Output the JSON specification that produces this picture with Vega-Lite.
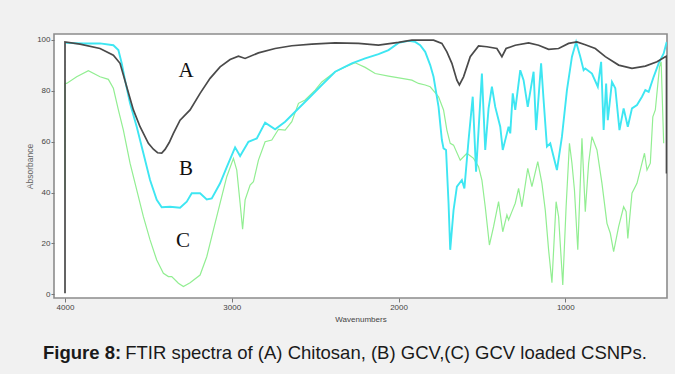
{
  "$schema": "https://vega.github.io/schema/vega-lite/v6.json",
  "width": 613,
  "height": 264,
  "autosize": {"type": "none"},
  "padding": {"left": 54, "top": 34, "right": 8, "bottom": 76},
  "background": "#f1f1f1",
  "config": {
    "view": {"fill": "white", "stroke": "#8c8c8c", "strokeWidth": 1.6},
    "font": "Liberation Sans"
  },
  "title": {
    "text": "Figure 8:",
    "subtitle": "\u200b\u00a0\u00a0\u00a0\u00a0\u00a0\u00a0\u00a0\u00a0\u00a0\u00a0\u00a0\u00a0\u00a0\u00a0\u00a0\u00a0FTIR spectra of (A) Chitosan, (B) GCV,(C) GCV loaded CSNPs.",
    "orient": "bottom",
    "anchor": "start",
    "frame": "group",
    "dx": -11,
    "offset": 21,
    "fontSize": 18.5,
    "fontWeight": "bold",
    "font": "Liberation Sans",
    "color": "#1a1a1a",
    "subtitleFontSize": 18.5,
    "subtitleFontWeight": "normal",
    "subtitleFont": "Liberation Sans",
    "subtitleColor": "#1a1a1a",
    "subtitlePadding": -18.5
  },
  "datasets": {
    "a": [
      {"w":4000,"v":0.5},{"w":4000,"v":99.1},{"w":3910,"v":98.2},{"w":3790,"v":96.5},{"w":3710,"v":93.9},{"w":3670,"v":90.7},{"w":3630,"v":81.5},{"w":3590,"v":72.4},{"w":3550,"v":65.8},{"w":3500,"v":59.3},{"w":3470,"v":57},{"w":3445,"v":55.6},{"w":3420,"v":55.5},{"w":3400,"v":56.9},{"w":3375,"v":59.6},{"w":3350,"v":63.2},{"w":3310,"v":68.4},{"w":3250,"v":72.4},{"w":3190,"v":78.9},{"w":3130,"v":84.8},{"w":3070,"v":89.3},{"w":3010,"v":92.2},{"w":2960,"v":93.5},{"w":2920,"v":92.6},{"w":2840,"v":94.8},{"w":2740,"v":96.5},{"w":2640,"v":97.6},{"w":2520,"v":98.2},{"w":2380,"v":98.7},{"w":2240,"v":98.5},{"w":2120,"v":97.8},{"w":2000,"v":98.9},{"w":1920,"v":99.8},{"w":1840,"v":99.8},{"w":1790,"v":99.8},{"w":1740,"v":98.5},{"w":1710,"v":95.2},{"w":1680,"v":90.7},{"w":1650,"v":84.1},{"w":1635,"v":82.2},{"w":1610,"v":85.4},{"w":1570,"v":93.3},{"w":1520,"v":97.5},{"w":1470,"v":97.2},{"w":1410,"v":96.5},{"w":1380,"v":93.3},{"w":1355,"v":96.5},{"w":1300,"v":97.8},{"w":1220,"v":98.7},{"w":1160,"v":97.8},{"w":1100,"v":96.2},{"w":1040,"v":96.5},{"w":980,"v":98.5},{"w":930,"v":99.1},{"w":880,"v":98},{"w":820,"v":96.5},{"w":760,"v":93.3},{"w":680,"v":90},{"w":600,"v":88.7},{"w":520,"v":89.6},{"w":450,"v":91.3},{"w":400,"v":93.3},{"w":393,"v":93.5},{"w":393,"v":47.5}
    ],
    "b": [
      {"w":3995,"v":98.7},{"w":3890,"v":98.5},{"w":3790,"v":98.5},{"w":3710,"v":97.8},{"w":3680,"v":95.9},{"w":3660,"v":90.7},{"w":3640,"v":84.1},{"w":3610,"v":75},{"w":3570,"v":65.8},{"w":3530,"v":55.4},{"w":3490,"v":44.9},{"w":3450,"v":37.1},{"w":3420,"v":34.2},{"w":3370,"v":34.4},{"w":3310,"v":34.0},{"w":3270,"v":36.4},{"w":3240,"v":39.7},{"w":3190,"v":39.7},{"w":3150,"v":37.3},{"w":3120,"v":37.7},{"w":3070,"v":43.6},{"w":3030,"v":50},{"w":2980,"v":57.7},{"w":2950,"v":54.3},{"w":2900,"v":59.9},{"w":2850,"v":61.2},{"w":2800,"v":67.4},{"w":2740,"v":64.8},{"w":2680,"v":67.8},{"w":2620,"v":71.7},{"w":2540,"v":76.9},{"w":2460,"v":82.2},{"w":2380,"v":87.4},{"w":2280,"v":90.7},{"w":2200,"v":92.6},{"w":2120,"v":94.3},{"w":2060,"v":95.9},{"w":2000,"v":98.7},{"w":1940,"v":99.5},{"w":1900,"v":99.1},{"w":1870,"v":97.8},{"w":1840,"v":95.2},{"w":1810,"v":90},{"w":1790,"v":85.4},{"w":1760,"v":73.6},{"w":1740,"v":60.6},{"w":1730,"v":57.3},{"w":1715,"v":56.7},{"w":1700,"v":35.8},{"w":1690,"v":17.5},{"w":1670,"v":33.1},{"w":1650,"v":42.3},{"w":1620,"v":44.9},{"w":1605,"v":41.6},{"w":1580,"v":60.6},{"w":1555,"v":77.6},{"w":1535,"v":48.2},{"w":1520,"v":64.5},{"w":1500,"v":86.7},{"w":1480,"v":56.7},{"w":1460,"v":73},{"w":1440,"v":81.5},{"w":1420,"v":73.6},{"w":1390,"v":65.8},{"w":1375,"v":56.7},{"w":1350,"v":63.2},{"w":1340,"v":65.8},{"w":1330,"v":63.2},{"w":1315,"v":78.9},{"w":1300,"v":72.4},{"w":1270,"v":88},{"w":1250,"v":84.1},{"w":1225,"v":73.6},{"w":1190,"v":87.4},{"w":1175,"v":64.5},{"w":1145,"v":90.7},{"w":1130,"v":76.3},{"w":1110,"v":58},{"w":1090,"v":59.3},{"w":1070,"v":54},{"w":1050,"v":48.8},{"w":1020,"v":61.9},{"w":990,"v":80.2},{"w":960,"v":93.3},{"w":935,"v":99.1},{"w":910,"v":93.3},{"w":890,"v":88},{"w":880,"v":88.7},{"w":840,"v":86.7},{"w":805,"v":81.5},{"w":785,"v":91.3},{"w":770,"v":64.5},{"w":755,"v":82.8},{"w":745,"v":68.4},{"w":720,"v":83.4},{"w":700,"v":80.9},{"w":675,"v":64.5},{"w":650,"v":73},{"w":625,"v":65.8},{"w":600,"v":73},{"w":570,"v":74.3},{"w":540,"v":77.6},{"w":520,"v":80.2},{"w":500,"v":79.5},{"w":470,"v":85.4},{"w":440,"v":90.7},{"w":410,"v":94.6},{"w":392,"v":99.1}
    ],
    "c": [
      {"w":4000,"v":41},{"w":4000,"v":82.8},{"w":3990,"v":82.8},{"w":3930,"v":85.4},{"w":3860,"v":87.8},{"w":3790,"v":85.4},{"w":3740,"v":84.4},{"w":3710,"v":80.9},{"w":3680,"v":72.4},{"w":3650,"v":64.5},{"w":3610,"v":51.5},{"w":3570,"v":41},{"w":3530,"v":30.5},{"w":3490,"v":21.4},{"w":3450,"v":13.5},{"w":3410,"v":8.3},{"w":3380,"v":7},{"w":3360,"v":7},{"w":3320,"v":4.4},{"w":3290,"v":3.1},{"w":3250,"v":4.6},{"w":3190,"v":7.6},{"w":3150,"v":14.8},{"w":3110,"v":25.3},{"w":3070,"v":35.8},{"w":3030,"v":46.2},{"w":2990,"v":53.4},{"w":2970,"v":48.8},{"w":2950,"v":35.8},{"w":2935,"v":25.6},{"w":2920,"v":37.1},{"w":2890,"v":42.9},{"w":2870,"v":44.2},{"w":2840,"v":52.7},{"w":2800,"v":59.9},{"w":2760,"v":60.6},{"w":2720,"v":64.8},{"w":2680,"v":64.5},{"w":2640,"v":67.8},{"w":2600,"v":75},{"w":2560,"v":76.3},{"w":2500,"v":80.2},{"w":2460,"v":83.4},{"w":2380,"v":87.4},{"w":2320,"v":89.3},{"w":2260,"v":90.9},{"w":2200,"v":89.1},{"w":2140,"v":86.7},{"w":2060,"v":85.7},{"w":1980,"v":84.8},{"w":1920,"v":84.1},{"w":1880,"v":82.8},{"w":1840,"v":82.2},{"w":1810,"v":81.5},{"w":1760,"v":77.6},{"w":1730,"v":72.4},{"w":1710,"v":64.5},{"w":1690,"v":59.3},{"w":1670,"v":58.6},{"w":1630,"v":52.7},{"w":1590,"v":55.4},{"w":1550,"v":53.4},{"w":1520,"v":50.1},{"w":1500,"v":44.9},{"w":1480,"v":34.4},{"w":1455,"v":19.4},{"w":1430,"v":26.6},{"w":1400,"v":36.4},{"w":1375,"v":24.6},{"w":1350,"v":31.2},{"w":1340,"v":29.2},{"w":1320,"v":32.5},{"w":1300,"v":35.8},{"w":1280,"v":41.6},{"w":1260,"v":34.4},{"w":1225,"v":49.5},{"w":1200,"v":42.3},{"w":1165,"v":52.1},{"w":1140,"v":43.6},{"w":1120,"v":33.1},{"w":1100,"v":17.5},{"w":1080,"v":4.6},{"w":1055,"v":36.4},{"w":1040,"v":30.5},{"w":1015,"v":3.7},{"w":995,"v":34.4},{"w":975,"v":59.3},{"w":960,"v":51.5},{"w":945,"v":41},{"w":925,"v":17.5},{"w":900,"v":61.3},{"w":880,"v":32.5},{"w":860,"v":51.5},{"w":840,"v":61.9},{"w":810,"v":56.7},{"w":780,"v":43.6},{"w":750,"v":27.9},{"w":730,"v":24},{"w":710,"v":16.8},{"w":680,"v":26.6},{"w":650,"v":34.4},{"w":635,"v":32.5},{"w":625,"v":22},{"w":600,"v":39.7},{"w":570,"v":43.6},{"w":540,"v":51.5},{"w":525,"v":55.4},{"w":510,"v":48.8},{"w":490,"v":51.5},{"w":475,"v":69.7},{"w":460,"v":72.4},{"w":435,"v":89.3},{"w":425,"v":91.3},{"w":410,"v":59.3}
    ],
    "lab": [
      {"t":"A","w":3274,"v":87.6},
      {"t":"B","w":3274,"v":49.4},
      {"t":"C","w":3292,"v":21.0}
    ]
  },
  "encoding": {
    "x": {
      "field": "w",
      "type": "quantitative",
      "scale": {"domain": [390, 4066], "reverse": true, "nice": false, "zero": false},
      "axis": {
        "title": "Wavenumbers",
        "values": [4000, 3000, 2000, 1000],
        "format": "d",
        "grid": false,
        "domain": false,
        "tickSize": 4,
        "tickColor": "#777",
        "labelFontSize": 8,
        "labelColor": "#444",
        "labelPadding": 1,
        "titleFontSize": 8,
        "titleFontWeight": "normal",
        "titleColor": "#444",
        "titlePadding": 4
      }
    },
    "y": {
      "field": "v",
      "type": "quantitative",
      "scale": {"domain": [-1.4, 102.2], "nice": false, "zero": false},
      "axis": {
        "title": "Absorbance",
        "values": [0, 20, 40, 60, 80, 100],
        "grid": false,
        "domain": false,
        "tickSize": 3,
        "tickColor": "#777",
        "labelFontSize": 8,
        "labelColor": "#444",
        "labelPadding": 1,
        "titleFontSize": 8.5,
        "titleFontWeight": "normal",
        "titleColor": "#666",
        "titlePadding": 2
      }
    }
  },
  "layer": [
    {
      "data": {"name": "c"},
      "mark": {"type": "line", "color": "#92ee92", "strokeWidth": 1.2, "clip": true},
      "encoding": {"order": {"value": null}}
    },
    {
      "data": {"name": "b"},
      "mark": {"type": "line", "color": "#3ee6f2", "strokeWidth": 1.9, "clip": true},
      "encoding": {"order": {"value": null}}
    },
    {
      "data": {"name": "a"},
      "mark": {"type": "line", "color": "#4a4a4a", "strokeWidth": 1.7, "clip": true},
      "encoding": {"order": {"value": null}}
    },
    {
      "data": {"name": "lab"},
      "mark": {"type": "text", "font": "Liberation Serif", "fontSize": 21, "color": "#111", "baseline": "middle", "align": "center"},
      "encoding": {"text": {"field": "t"}}
    }
  ]
}
